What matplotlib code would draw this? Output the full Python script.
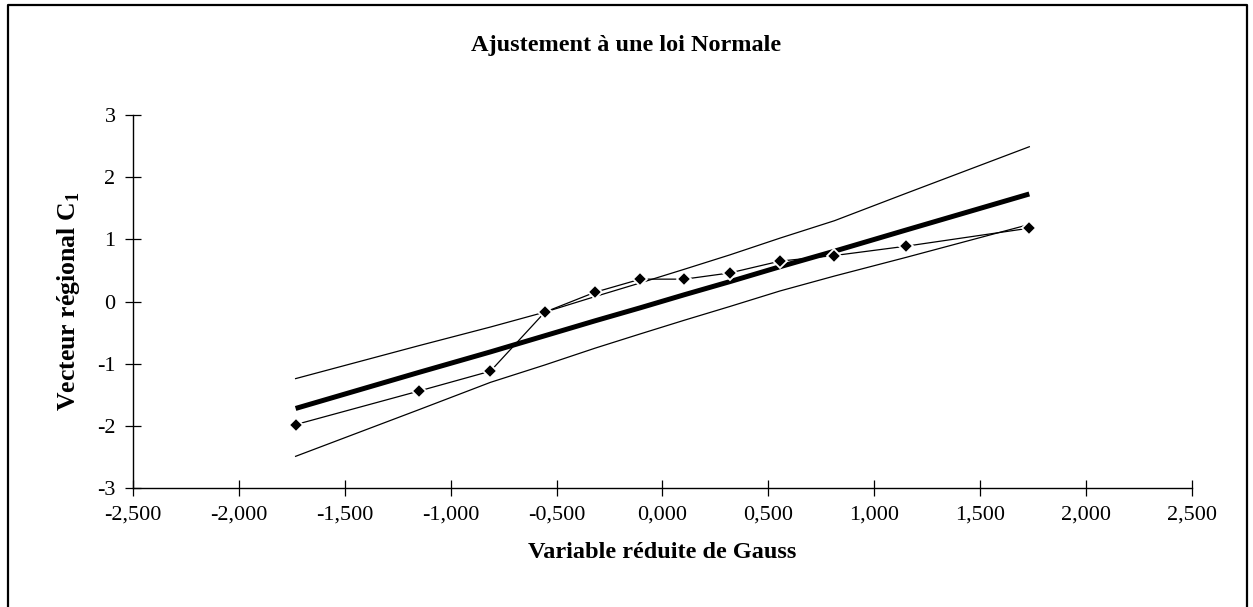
import matplotlib
matplotlib.use("Agg")
import matplotlib.pyplot as plt
from matplotlib.lines import Line2D

# Gauss reduced variable for each point
gauss_x = [-1.732, -1.150, -0.812, -0.555, -0.318, -0.104, 0.104, 0.318, 0.555, 0.812, 1.150, 1.732]
# observed regional vector C1
observed = [-1.98, -1.44, -1.12, -0.17, 0.15, 0.36, 0.36, 0.46, 0.65, 0.74, 0.89, 1.18]
# fitted normal line and confidence band
fitted = [-1.72, -1.14, -0.81, -0.55, -0.31, -0.10, 0.11, 0.32, 0.56, 0.81, 1.15, 1.73]
upper = [-1.24, -0.71, -0.41, -0.17, 0.08, 0.30, 0.52, 0.75, 1.02, 1.30, 1.74, 2.49]
lower = [-2.49, -1.74, -1.30, -1.02, -0.75, -0.52, -0.30, -0.08, 0.17, 0.41, 0.71, 1.24]

x_ticks = [-2.5, -2.0, -1.5, -1.0, -0.5, 0.0, 0.5, 1.0, 1.5, 2.0, 2.5]
x_tick_labels = ["-2,500", "-2,000", "-1,500", "-1,000", "-0,500", "0,000",
                 "0,500", "1,000", "1,500", "2,000", "2,500"]
y_ticks = [-3, -2, -1, 0, 1, 2, 3]
y_tick_labels = ["-3", "-2", "-1", "0", "1", "2", "3"]

plt.rcParams['font.family'] = ['Liberation Serif', 'DejaVu Serif']

fig = plt.figure(figsize=(12.53, 6.07), dpi=100)
ax = fig.add_axes([0.1061, 0.196, 0.8452, 0.6145])

ax.plot(gauss_x, upper, color="black", lw=0.9)
ax.plot(gauss_x, lower, color="black", lw=0.9)
ax.plot(gauss_x, fitted, color="black", lw=3.6, solid_capstyle="butt")
ax.plot(gauss_x, observed, color="black", lw=0.9, marker="D", markersize=7,
        markerfacecolor="black", markeredgecolor="white", markeredgewidth=1.3)

ax.set_xlim(-2.5, 2.5)
ax.set_ylim(-3, 3)
ax.set_xticks(x_ticks)
ax.set_xticklabels(x_tick_labels)
ax.set_yticks(y_ticks)
ax.set_yticklabels(y_tick_labels)
ax.tick_params(direction="inout", length=11, width=0.9, labelsize=16, pad=7)

for side in ["top", "right"]:
    ax.spines[side].set_visible(False)
for side in ["left", "bottom"]:
    ax.spines[side].set_linewidth(1.0)

# chart title is centred on the whole chart area
fig.text(0.5, 1 - 45 / 607, "Ajustement à une loi Normale", fontsize=17.5,
         fontweight="bold", ha="center", va="center")
ax.set_xlabel("Variable réduite de Gauss", fontsize=17.5, fontweight="bold", labelpad=13)
ax.set_ylabel("Vecteur régional C$_\\mathregular{1}$", fontsize=18.5, fontweight="bold", labelpad=11)

# border around the chart area (open at the bottom)
bx0, bx1, by1 = 8 / 1253, 1247 / 1253, 1 - 5 / 607
fig.add_artist(Line2D([bx0, bx0, bx1, bx1], [-0.1, by1, by1, -0.1],
                      color="black", lw=1.6, transform=fig.transFigure))

fig.savefig("out.png", dpi=100)
